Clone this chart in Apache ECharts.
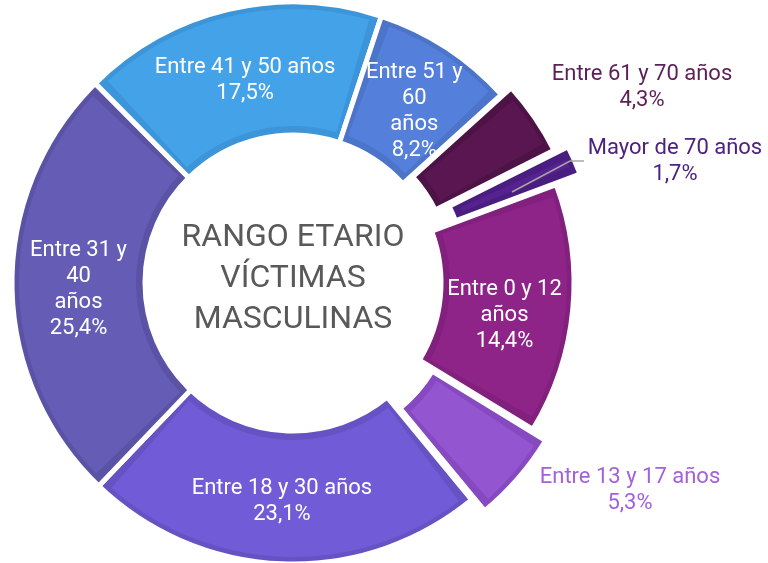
<!DOCTYPE html>
<html lang="es">
<head>
  <meta charset="UTF-8">
  <title>Rango etario víctimas masculinas</title>
  <style>
    html, body { margin: 0; padding: 0; background: #fff; }
    #main { width: 768px; height: 563px; }
  </style>
</head>
<body>
  <div id="main"></div>
  <script src="https://cdn.jsdelivr.net/npm/echarts@6/dist/echarts.min.js"></script>
  <script type="text/javascript">
    // datos del gráfico
    const categories = ['Entre 0 y 12 años', 'Entre 13 y 17 años', 'Entre 18 y 30 años', 'Entre 31 y 40 años',
      'Entre 41 y 50 años', 'Entre 51 y 60 años', 'Entre 61 y 70 años', 'Mayor de 70 años'];
    const shares = [14.4, 5.3, 23.1, 25.4, 17.5, 8.2, 4.3, 1.7];
    // nombre con saltos de línea tal como aparece en la etiqueta
    const labelNames = ['Entre 0 y 12\naños', 'Entre 13 y 17 años', 'Entre 18 y 30 años', 'Entre 31 y\n40\naños',
      'Entre 41 y 50 años', 'Entre 51 y\n60\naños', 'Entre 61 y 70 años', 'Mayor de 70 años'];

    // estilos
    const fills = ['#8e2487', '#9355d0', '#725bd6', '#655db5', '#44a2e8', '#547fdb', '#5a1650', '#55228f'];
    const rims = ['#82207d', '#8649c0', '#6652c3', '#5a52a5', '#3c95d8', '#4c74c9', '#4e1346', '#4a1e80'];
    const outsideColors = { 1: '#a462da', 6: '#5c1f57', 7: '#4e2181' };
    const explode = [0, 17, 0, 0, 0, 0, 12, 26];

    const CENTER = [293, 283];
    const START = 20.5;

    // etiquetas externas (centro deseado de la caja de texto, ya desplazada)
    const outsideAt = { 1: [630, 490], 6: [642, 87], 7: [675, 161] };
    const leader7 = [[512, 192], [570, 161], [584, 161]];
    const nudge = { 0: [-6, 12], 2: [-3, 0], 3: [4, 5], 4: [2, 10], 5: [2, 12] };

    function fmt(v) {
      return v.toFixed(1).replace('.', ',') + '%';
    }

    // desplazamiento que aplica "selected" a la porción i (la etiqueta se mueve con ella)
    const total = shares.reduce((a, b) => a + b, 0);
    function selectShift(i) {
      let before = 0;
      for (let k = 0; k < i; k++) before += shares[k];
      const mid = (START - (before + shares[i] / 2) / total * 360) * Math.PI / 180;
      return [explode[i] * Math.cos(mid), -explode[i] * Math.sin(mid)];
    }

    function labelLayout(p) {
      const i = p.dataIndex;
      if (outsideAt[i]) {
        const r = p.labelRect;
        const s = selectShift(i);
        return {
          align: 'center',
          dx: outsideAt[i][0] - s[0] - r.x,
          dy: outsideAt[i][1] - s[1] - (r.y + r.height / 2)
        };
      }
      if (nudge[i]) return { dx: nudge[i][0], dy: nudge[i][1] };
      return {};
    }

    const groups = [...new Set(explode)];
    const baseSeries = [];
    const topSeries = [];

    groups.forEach(off => {
      const common = {
        type: 'pie',
        silent: true,
        animation: false,
        clockwise: true,
        startAngle: START,
        center: CENTER,
        selectedMode: 'multiple',
        selectedOffset: off,
        emphasis: { disabled: true }
      };

      // capa inferior: borde oscuro + separación blanca
      baseSeries.push(Object.assign({}, common, {
        radius: [148, 281],
        label: { show: false },
        labelLine: { show: false },
        data: shares.map((v, i) => ({
          name: categories[i],
          value: v,
          selected: off > 0 && explode[i] === off,
          itemStyle: explode[i] === off
            ? { color: rims[i], borderColor: '#ffffff', borderWidth: 5 }
            : { color: 'rgba(0,0,0,0)', borderWidth: 0 }
        }))
      }));

      // capa superior: relleno claro y etiquetas
      topSeries.push(Object.assign({}, common, {
        radius: [157, 274],
        padAngle: 4.4,
        labelLayout: labelLayout,
        labelLine: { show: false },
        data: shares.map((v, i) => {
          const mine = explode[i] === off;
          const outside = !!outsideAt[i];
          return {
            name: categories[i],
            value: v,
            selected: off > 0 && mine,
            itemStyle: mine ? { color: fills[i], borderWidth: 0 } : { color: 'rgba(0,0,0,0)', borderWidth: 0 },
            label: {
              show: mine,
              position: outside ? 'outside' : 'inside',
              overflow: 'none',
              formatter: labelNames[i] + '\n' + fmt(v),
              color: outside ? outsideColors[i] : '#ffffff',
              fontFamily: 'Roboto',
              fontSize: 22,
              lineHeight: 26,
              align: 'center'
            }
          };
        })
      }));
    });

    const myChart = echarts.init(document.getElementById('main'));
    myChart.setOption({
      backgroundColor: '#ffffff',
      graphic: [{
        type: 'text',
        x: CENTER[0],
        y: 279,
        silent: true,
        style: {
          text: 'RANGO ETARIO\nVÍCTIMAS\nMASCULINAS',
          fontFamily: 'Roboto',
          fontSize: 32,
          lineHeight: 41,
          fill: '#595959',
          align: 'center',
          verticalAlign: 'middle'
        }
      }, {
        // línea guía de "Mayor de 70 años"
        type: 'polyline',
        silent: true,
        z: 100,
        shape: { points: leader7 },
        style: { stroke: '#a6a6a6', lineWidth: 1.5, fill: null }
      }],
      series: baseSeries.concat(topSeries)
    });
  </script>
</body>
</html>
